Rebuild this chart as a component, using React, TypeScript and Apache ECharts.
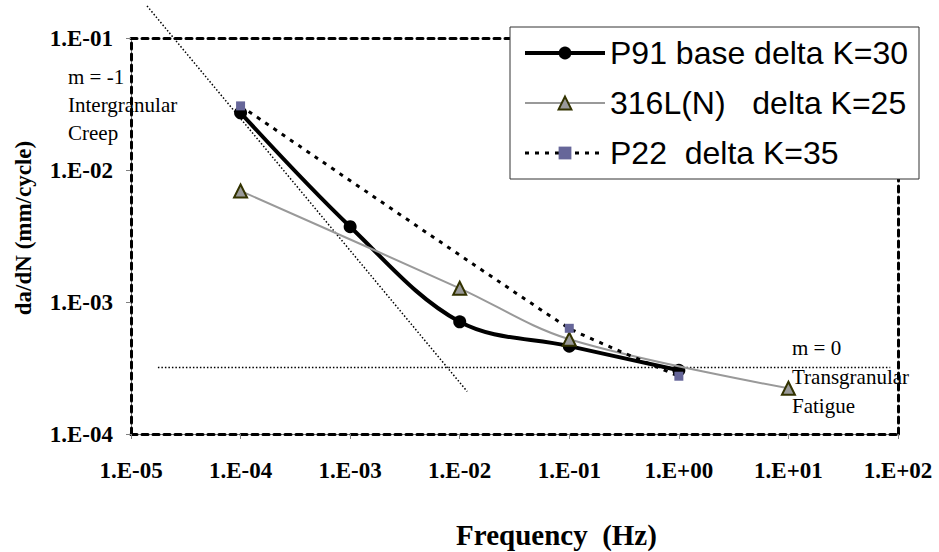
import React, { useEffect, useRef } from "react";
import * as echarts from "echarts";

// ---- data ----
const p91Freq = [1e-4, 1e-3, 1e-2, 1e-1, 1];
const p91Values = [0.0271, 0.00372, 0.000708, 0.000463, 0.000304];
const l316Freq = [1e-4, 1e-2, 1e-1, 10];
const l316Values = [0.00694, 0.00127, 0.000522, 0.000222];
const p22Freq = [1e-4, 1e-1, 1];
const p22Values = [0.0306, 0.000632, 0.000274];
const creepFreq = [1.4e-5, 0.0117];
const creepValues = [0.175, 0.00021];
const fatigueFreq = [1.76e-5, 85];
const fatigueValues = [0.000319, 0.000319];
const xTickLabels = ["1.E-05", "1.E-04", "1.E-03", "1.E-02", "1.E-01", "1.E+00", "1.E+01", "1.E+02"];
const yTickLabels = ["1.E-04", "1.E-03", "1.E-02", "1.E-01"];
const seriesNames = ["P91 base delta K=30", "316L(N)   delta K=25", "P22  delta K=35"];
const creepNotes = ["m = -1", "Intergranular", "Creep"];
const fatigueNotes = ["m = 0", "Transgranular", "Fatigue"];

const SERIF = "'Liberation Serif', 'Times New Roman', serif";
const SANS = "'Liberation Sans', Arial, sans-serif";

const zip = (xs: number[], ys: number[]) => xs.map((x, i) => [x, ys[i]]);

export default function App() {
  const ref = useRef<HTMLDivElement>(null);
  useEffect(() => {
    document.body.style.margin = "0";
    if (!ref.current) return;
    const chart = echarts.init(ref.current, null, { renderer: "svg" });
    const dashed = { color: "#000", width: 3, type: [6, 5] as any };
    const option: any = {
      animation: false,
      backgroundColor: "#fff",
      grid: { left: 131, right: 41, top: 38, bottom: 118, containLabel: false, outerBoundsMode: "none" },
      xAxis: [
        {
          type: "log",
          logBase: 10,
          min: 1e-5,
          max: 1e2,
          interval: 1,
          position: "bottom",
          name: "Frequency  (Hz)",
          nameLocation: "middle",
          nameGap: 86,
          nameTextStyle: { fontFamily: SERIF, fontWeight: "bold", fontSize: 29, color: "#000", padding: [0, 0, 0, 84] },
          axisLine: { show: true, lineStyle: { color: "#808080", width: 1 } },
          axisTick: { show: true, inside: false, length: 5, lineStyle: { color: "#808080" } },
          minorTick: { show: false },
          splitLine: { show: false },
          axisLabel: {
            margin: 25,
            fontFamily: SERIF,
            fontWeight: "bold",
            fontSize: 23,
            color: "#000",
            formatter: (v: number) => xTickLabels[Math.round(Math.log10(v)) + 5],
          },
        },
        {
          type: "value",
          min: 0,
          max: 1,
          position: "bottom",
          axisLine: { show: true, lineStyle: dashed },
          axisTick: { show: false },
          axisLabel: { show: false },
          splitLine: { show: false },
        },
        {
          type: "value",
          min: 0,
          max: 1,
          position: "top",
          axisLine: { show: true, lineStyle: dashed },
          axisTick: { show: false },
          axisLabel: { show: false },
          splitLine: { show: false },
        },
      ],
      yAxis: [
        {
          type: "log",
          logBase: 10,
          min: 1e-4,
          max: 1e-1,
          interval: 1,
          position: "left",
          name: "da/dN (mm/cycle)",
          nameLocation: "middle",
          nameRotate: 90,
          nameGap: 96,
          nameTextStyle: { fontFamily: SERIF, fontWeight: "bold", fontSize: 23, color: "#000", padding: [0, 0, 0, 16] },
          axisLine: { show: true, lineStyle: { color: "#808080", width: 1 } },
          axisTick: { show: true, inside: false, length: 5, lineStyle: { color: "#808080" } },
          minorTick: { show: false },
          splitLine: { show: false },
          axisLabel: {
            margin: 18,
            fontFamily: SERIF,
            fontWeight: "bold",
            fontSize: 23,
            color: "#000",
            formatter: (v: number) => yTickLabels[Math.round(Math.log10(v)) + 4],
          },
        },
        {
          type: "value",
          min: 0,
          max: 1,
          position: "left",
          axisLine: { show: true, lineStyle: dashed },
          axisTick: { show: false },
          axisLabel: { show: false },
          splitLine: { show: false },
        },
        {
          type: "value",
          min: 0,
          max: 1,
          position: "right",
          axisLine: { show: true, lineStyle: dashed },
          axisTick: { show: false },
          axisLabel: { show: false },
          splitLine: { show: false },
        },
      ],
      legend: {
        orient: "vertical",
        left: 510,
        top: 27,
        data: seriesNames,
        backgroundColor: "#fff",
        borderColor: "#333",
        borderWidth: 1,
        borderRadius: 0,
        padding: [10, 11, 10, 13],
        itemWidth: 80,
        itemHeight: 16,
        itemGap: 18,
        align: "left",
        lineStyle: { width: "inherit" },
        textStyle: { fontFamily: SANS, fontSize: 32, color: "#000" },
        z: 10,
      },
      series: [
        {
          name: "m = -1 trend",
          type: "line",
          data: zip(creepFreq, creepValues),
          symbol: "none",
          clip: false,
          lineStyle: { color: "#000", width: 1.5, type: [1.5, 2] },
          silent: true,
          z: 1,
        },
        {
          name: "m = 0 trend",
          type: "line",
          data: zip(fatigueFreq, fatigueValues),
          symbol: "none",
          clip: false,
          lineStyle: { color: "#000", width: 1.5, type: [1.5, 2] },
          silent: true,
          z: 1,
        },
        {
          name: seriesNames[0],
          type: "line",
          data: zip(p91Freq, p91Values),
          smooth: 0.35,
          symbol: "circle",
          symbolSize: 13,
          itemStyle: { color: "#000" },
          lineStyle: { color: "#000", width: 4 },
          z: 3,
        },
        {
          name: seriesNames[1],
          type: "line",
          data: zip(l316Freq, l316Values),
          smooth: 0.35,
          symbol: "triangle",
          symbolSize: 13,
          itemStyle: { color: "#999999", borderColor: "#333300", borderWidth: 2 },
          lineStyle: { color: "#999999", width: 2 },
          z: 4,
        },
        {
          name: seriesNames[2],
          type: "line",
          data: zip(p22Freq, p22Values),
          smooth: 0.1,
          symbol: "rect",
          symbolSize: 9,
          itemStyle: { color: "#666699" },
          lineStyle: { color: "#000", width: 3, type: [4, 6] },
          z: 5,
        },
      ],
      graphic: [
        ...creepNotes.map((t, i) => ({
          type: "text",
          left: 68,
          top: 66 + i * 28,
          z: 20,
          style: { text: t, font: `21px ${SERIF}`, fill: "#000" },
        })),
        ...fatigueNotes.map((t, i) => ({
          type: "text",
          left: 792,
          top: 337 + i * 29,
          z: 20,
          style: { text: t, font: `21px ${SERIF}`, fill: "#000" },
        })),
      ],
    };
    chart.setOption(option);
    return () => chart.dispose();
  }, []);
  return <div ref={ref} style={{ width: 939, height: 552 }} />;
}
